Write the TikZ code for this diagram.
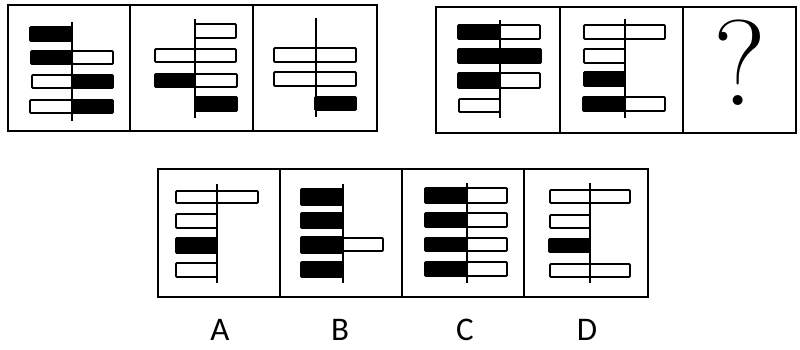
\documentclass[tikz,border=0pt]{standalone}
\usepackage{fontspec}
\newfontfamily\labelfont{Carlito}
\begin{document}
\begin{tikzpicture}[x=1pt,y=-1pt,
  frame/.style={line width=2pt},
  axisline/.style={line width=2pt},
  wbar/.style={draw=black, fill=white, line width=1.9pt, rounded corners=1pt},
  bbar/.style={draw=black, fill=black, line width=1.9pt, rounded corners=1pt},
  lbl/.style={font=\labelfont\fontsize{33}{33}\selectfont, inner sep=0pt}]
\useasboundingbox (0,0) rectangle (800,349);
\fill[white] (0,0) rectangle (800,349);
% ---------- top left group ----------
\draw[frame] (8,5) rectangle (377,131);
\draw[frame] (130,5) -- (130,131);
\draw[frame] (253,5) -- (253,131);
% panel 1
\draw[bbar] (30,27) rectangle (72,41);
\draw[bbar] (31,51) rectangle (72,64);
\draw[wbar] (72,51) rectangle (113,64);
\draw[wbar] (32,75) rectangle (72,88);
\draw[bbar] (72,75) rectangle (113,88);
\draw[wbar] (30,100) rectangle (72,113);
\draw[bbar] (72,100) rectangle (113,113);
\draw[axisline] (72,22) -- (72,121);
% panel 2
\draw[wbar] (195,24) rectangle (236,38);
\draw[wbar] (155,49) rectangle (236,62);
\draw[bbar] (155,74) rectangle (195,87);
\draw[wbar] (195,74) rectangle (237,87);
\draw[bbar] (195,97) rectangle (237,111);
\draw[axisline] (195,19) -- (195,118);
% panel 3
\draw[wbar] (274,48) rectangle (356,62);
\draw[wbar] (274,72) rectangle (356,86);
\draw[bbar] (315,97) rectangle (356,110);
\draw[axisline] (316,18) -- (316,117);
% ---------- top right group ----------
\draw[frame] (436,7) rectangle (796,133);
\draw[frame] (560,7) -- (560,133);
\draw[frame] (683,7) -- (683,133);
% panel R1
\draw[bbar] (458,25) rectangle (500,39);
\draw[wbar] (500,25) rectangle (540,39);
\draw[bbar] (458,49) rectangle (541,63);
\draw[bbar] (458,73) rectangle (500,88);
\draw[wbar] (500,73) rectangle (540,88);
\draw[wbar] (459,99) rectangle (500,112);
\draw[axisline] (500,20) -- (500,118);
% panel R2
\draw[wbar] (584,25) rectangle (665,39);
\draw[wbar] (584,49) rectangle (625,63);
\draw[bbar] (584,72) rectangle (625,86);
\draw[bbar] (583,97) rectangle (625,111);
\draw[wbar] (625,97) rectangle (665,111);
\draw[axisline] (625,19) -- (625,118);
% question mark
\node[inner sep=0pt, anchor=base, font=\fontsize{122}{122}\selectfont] (q) at (740,105) {?};
% ---------- bottom group ----------
\draw[frame] (158,169) rectangle (648,297);
\draw[frame] (280,169) -- (280,297);
\draw[frame] (402,169) -- (402,297);
\draw[frame] (524,169) -- (524,297);
% panel A
\draw[wbar] (176,191) rectangle (258,203);
\draw[wbar] (176,214) rectangle (217,228);
\draw[bbar] (176,238) rectangle (217,253);
\draw[wbar] (176,263) rectangle (217,277);
\draw[axisline] (217,184) -- (217,283);
% panel B
\draw[bbar] (301,189) rectangle (343,205);
\draw[bbar] (301,213) rectangle (343,228);
\draw[bbar] (301,237) rectangle (343,253);
\draw[wbar] (343,238) rectangle (383,251);
\draw[bbar] (301,262) rectangle (343,277);
\draw[axisline] (343,184) -- (343,283);
% panel C
\draw[bbar] (425,188) rectangle (467,203);
\draw[wbar] (467,188) rectangle (507,203);
\draw[bbar] (425,213) rectangle (467,227);
\draw[wbar] (467,213) rectangle (507,227);
\draw[bbar] (425,238) rectangle (467,251);
\draw[wbar] (467,238) rectangle (507,251);
\draw[bbar] (425,262) rectangle (467,276);
\draw[wbar] (467,262) rectangle (507,276);
\draw[axisline] (467,183) -- (467,283);
% panel D
\draw[wbar] (550,190) rectangle (630,203);
\draw[wbar] (550,215) rectangle (590,228);
\draw[bbar] (549,239) rectangle (590,252);
\draw[wbar] (550,264) rectangle (630,277);
\draw[axisline] (590,183) -- (590,283);
% labels
\node[lbl] (la) at (220,330) {A};
\node[lbl] (lb) at (340,330) {B};
\node[lbl] (lc) at (465,330) {C};
\node[lbl] (ld) at (587,330) {D};
\end{tikzpicture}
\end{document}
